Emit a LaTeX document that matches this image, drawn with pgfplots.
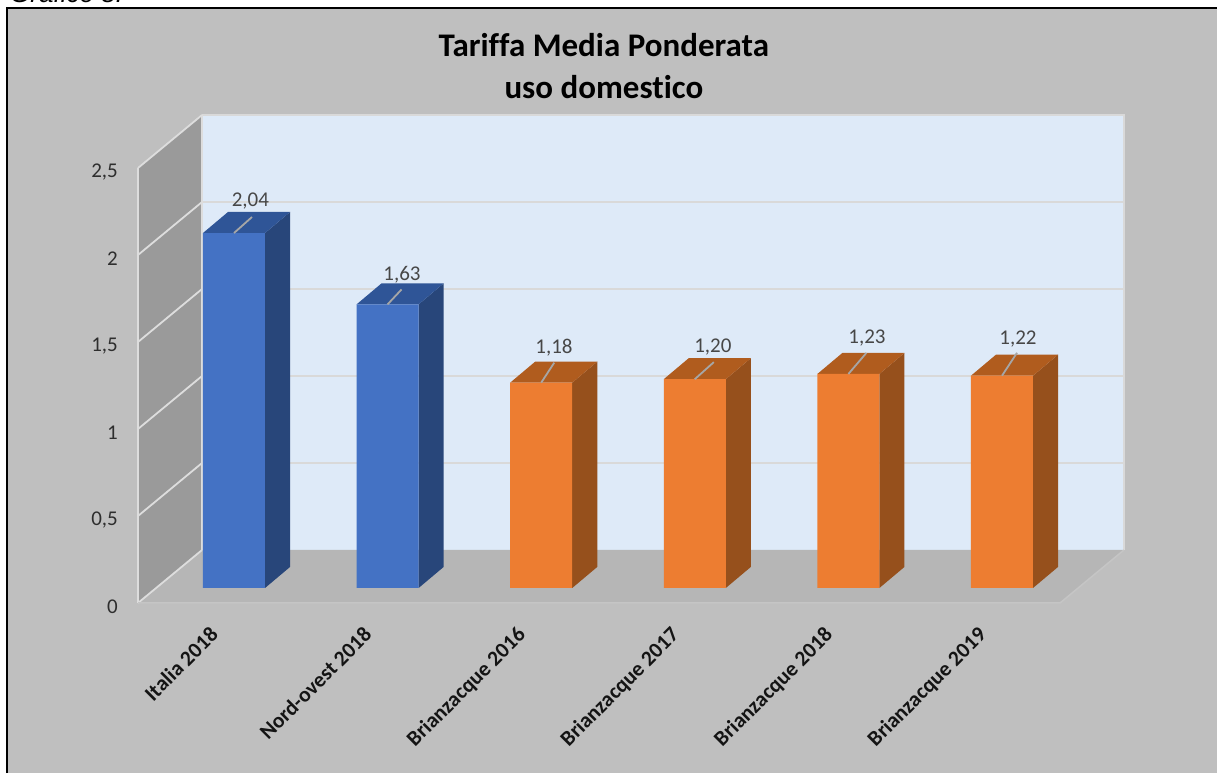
\documentclass[border=0pt]{standalone}
\usepackage{fontspec}
\setmainfont[Ligatures=NoCommon]{Carlito}
\newfontfamily\capfont{Liberation Sans}
\usepackage{pgfplots}
\pgfplotsset{compat=1.18}

\definecolor{chartbg}{HTML}{BFBFBF}
\definecolor{wallback}{HTML}{DEEAF8}
\definecolor{wallleft}{HTML}{9A9A9A}
\definecolor{floorc}{HTML}{B6B6B6}
\definecolor{gridc}{HTML}{D9D9D9}
\definecolor{gridl}{HTML}{DDDDDD}
\definecolor{edgec}{HTML}{C5C5C5}
\definecolor{blu}{HTML}{4472C4}
\definecolor{blutop}{HTML}{2F5597}
\definecolor{bluside}{HTML}{28467A}
\definecolor{ora}{HTML}{ED7D31}
\definecolor{oratop}{HTML}{B05C1E}
\definecolor{oraside}{HTML}{96501C}
\definecolor{leader}{HTML}{A6A6A6}

\pgfplotsset{
  face/.style={fill=#1, draw=none, forget plot, yshift=15pt},
  bar3d/.style={ybar, bar width=62pt, bar shift=0pt, fill=#1, draw=none, forget plot, yshift=15pt},
  gridb/.style={gridc, line width=1.8pt, forget plot},
  gridw/.style={gridl, line width=1.8pt, forget plot},
  lead/.style={leader, line width=1.8pt, forget plot, yshift=15pt},
}
\newcommand{\vlabel}[2]{\node[font=\fontsize{21}{24}\selectfont, text=black!72, inner sep=0pt, yshift=-2pt] at (axis cs:#1) {#2};}

\begin{document}
\begin{tikzpicture}
  \useasboundingbox (0pt,0pt) rectangle (1217pt,773pt);
  \fill[chartbg] (7pt,0pt) rectangle (1217pt,765pt);
  \draw[black, line width=1.6pt] (7pt,0pt) -- (7pt,765pt) -- (1217pt,765pt);
  \node[anchor=base west, inner sep=0pt, font=\capfont\itshape\fontsize{26}{30}\selectfont] at (10pt,770pt) {Grafico 8.};

  \begin{axis}[
    at={(138pt,170pt)}, anchor=south west,
    scale only axis, width=987pt, height=488pt,
    xmin=-0.625, xmax=5.801, ymin=0, ymax=2.8046,
    clip=false,
    axis line style={draw=none},
    tick style={draw=none},
    xtick={0,1,2,3,4,5},
    xticklabels={Italia 2018, Nord-ovest 2018, Brianzacque 2016, Brianzacque 2017, Brianzacque 2018, Brianzacque 2019},
    % shifts here act in the rotated frame of the label
    x tick label style={rotate=45, anchor=north east, inner sep=0pt, xshift=-33.7pt, yshift=2.2pt,
      font=\bfseries\fontsize{21.5}{24}\selectfont, text=black!92},
    ytick={0,0.5,1,1.5,2,2.5},
    yticklabels={0,{0,5},1,{1,5},2,{2,5}},
    y tick label style={anchor=east, inner sep=0pt, xshift=-20pt, yshift=-4pt,
      font=\fontsize{21}{24}\selectfont, text=black!82},
    title={Tariffa Media Ponderata\\uso domestico},
    title style={at={(rel axis cs:0.472,1.0885)}, anchor=center, align=center, inner sep=0pt,
      font=\bfseries\fontsize{33}{41.5}\selectfont, text=black},
  ]
    % walls and floor
    \addplot[face=wallback, yshift=-15pt] coordinates {(-0.208,0.3046) (5.794,0.3046) (5.794,2.8046) (-0.208,2.8046)} -- cycle;
    \addplot[face=wallleft, yshift=-15pt] coordinates {(-0.625,0) (-0.208,0.3046) (-0.208,2.8046) (-0.625,2.5)} -- cycle;
    \addplot[face=floorc, yshift=-15pt] coordinates {(-0.625,0) (-0.208,0.3046) (5.794,0.3046) (5.378,0)} -- cycle;

    % gridlines, back wall
    \addplot[gridb] coordinates {(-0.208,0.8046) (5.794,0.8046)};
    \addplot[gridb] coordinates {(-0.208,1.3046) (5.794,1.3046)};
    \addplot[gridb] coordinates {(-0.208,1.8046) (5.794,1.8046)};
    \addplot[gridb] coordinates {(-0.208,2.3046) (5.794,2.3046)};
    \addplot[gridb] coordinates {(-0.208,2.8046) (5.794,2.8046) (5.794,0.3046)};
    % gridlines, left wall
    \addplot[gridw] coordinates {(-0.625,0) (-0.208,0.3046)};
    \addplot[gridw] coordinates {(-0.625,0.5) (-0.208,0.8046)};
    \addplot[gridw] coordinates {(-0.625,1) (-0.208,1.3046)};
    \addplot[gridw] coordinates {(-0.625,1.5) (-0.208,1.8046)};
    \addplot[gridw] coordinates {(-0.625,2) (-0.208,2.3046)};
    \addplot[gridw] coordinates {(-0.625,2.5) (-0.208,2.8046)};
    \addplot[gridw] coordinates {(-0.625,0) (-0.625,2.5)};
    \addplot[gridw] coordinates {(-0.208,0.3046) (-0.208,2.8046)};
    \addplot[edgec, line width=1.5pt, forget plot] coordinates {(-0.625,0) (5.378,0) (5.794,0.3046)};

    % bar sides
    \addplot[face=bluside] coordinates {(0.202,0) (0.202,2.04) (0.365,2.161) (0.365,0.121)} -- cycle;
    \addplot[face=bluside] coordinates {(1.202,0) (1.202,1.63) (1.365,1.751) (1.365,0.121)} -- cycle;
    \addplot[face=oraside] coordinates {(2.202,0) (2.202,1.18) (2.365,1.301) (2.365,0.121)} -- cycle;
    \addplot[face=oraside] coordinates {(3.202,0) (3.202,1.20) (3.365,1.321) (3.365,0.121)} -- cycle;
    \addplot[face=oraside] coordinates {(4.202,0) (4.202,1.23) (4.365,1.351) (4.365,0.121)} -- cycle;
    \addplot[face=oraside] coordinates {(5.202,0) (5.202,1.22) (5.365,1.341) (5.365,0.121)} -- cycle;
    % bar tops
    \addplot[face=blutop] coordinates {(-0.202,2.04) (0.202,2.04) (0.365,2.161) (-0.039,2.161)} -- cycle;
    \addplot[face=blutop] coordinates {(0.798,1.63) (1.202,1.63) (1.365,1.751) (0.961,1.751)} -- cycle;
    \addplot[face=oratop] coordinates {(1.798,1.18) (2.202,1.18) (2.365,1.301) (1.961,1.301)} -- cycle;
    \addplot[face=oratop] coordinates {(2.798,1.20) (3.202,1.20) (3.365,1.321) (2.961,1.321)} -- cycle;
    \addplot[face=oratop] coordinates {(3.798,1.23) (4.202,1.23) (4.365,1.351) (3.961,1.351)} -- cycle;
    \addplot[face=oratop] coordinates {(4.798,1.22) (5.202,1.22) (5.365,1.341) (4.961,1.341)} -- cycle;
    % bar fronts
    \addplot[bar3d=blu] coordinates {(0,2.04) (1,1.63)};
    \addplot[bar3d=ora] coordinates {(2,1.18) (3,1.20) (4,1.23) (5,1.22)};

    % leader lines
    \addplot[lead] coordinates {(0,2.04) (0.117,2.132)};
    \addplot[lead] coordinates {(1,1.63) (1.091,1.716)};
    \addplot[lead] coordinates {(2,1.18) (2.085,1.295)};
    \addplot[lead] coordinates {(3,1.20) (3.124,1.298)};
    \addplot[lead] coordinates {(4,1.23) (4.117,1.351)};
    \addplot[lead] coordinates {(5,1.22) (5.098,1.352)};

    % value labels
    \vlabel{0.107,2.322}{2,04}
    \vlabel{1.094,1.897}{1,63}
    \vlabel{2.083,1.477}{1,18}
    \vlabel{3.118,1.483}{1,20}
    \vlabel{4.121,1.534}{1,23}
    \vlabel{5.104,1.529}{1,22}
  \end{axis}
\end{tikzpicture}
\end{document}
